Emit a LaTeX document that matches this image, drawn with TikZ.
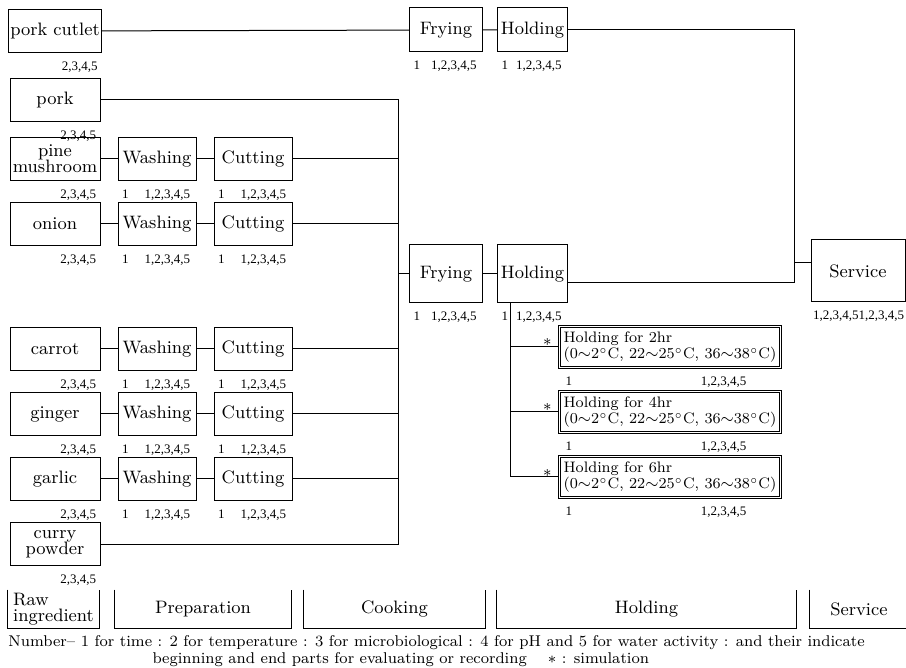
\documentclass[tikz,border=0pt]{standalone}
\usepackage{fontspec}
\newfontfamily\numfont{Liberation Serif}
\usetikzlibrary{positioning,calc}

\begin{document}
\begin{tikzpicture}[x=0.5pt,y=-0.5pt,line width=0.5pt,
   rawbox/.style={draw,minimum width=45pt,minimum height=21.5pt,inner sep=1pt,font=\small,align=center},
   procbox/.style={draw,minimum width=39pt,minimum height=21.5pt,inner sep=1pt,font=\small},
   simbox/.style={draw,double,double distance=0.8pt,minimum width=107pt,minimum height=20.5pt,
                  inner xsep=2pt,inner ysep=0pt,font=\fontsize{7.6pt}{8.4pt}\selectfont,align=left},
   num/.style={inner sep=1pt,font=\numfont\fontsize{6.5pt}{7.5pt}\selectfont},
   stage/.style={minimum height=19pt,inner sep=1pt,font=\small}]
  \useasboundingbox (0,0) rectangle (906,668);

  % raw ingredients
  \node[rawbox] (cutlet) at (55,31)  {pork cutlet};
  \node[rawbox] (pork)   at (55,100) {pork};
  \node[rawbox] (pine)   at (55,159) {pine\\[-3pt]mushroom};
  \node[rawbox] (onion)  at (55,224) {onion};
  \node[rawbox] (carrot) at (55,349) {carrot};
  \node[rawbox] (ginger) at (55,414) {ginger};
  \node[rawbox] (garlic) at (55,479) {garlic};
  \node[rawbox] (curry)  at (55,544) {curry\\[-3pt]powder};
  \foreach \r in {cutlet,pork,pine,onion,carrot,ginger,garlic,curry}{
    \node[num,anchor=north east] at ([xshift=-1pt,yshift=-3pt]\r.south east) {2,3,4,5};
  }

  % collecting line to the cooking step
  \coordinate (bus) at (398,100);
  \draw (pork) -- (bus) -- (bus |- curry) -- (curry);

  % preparation rows
  \foreach \r in {pine,onion,carrot,ginger,garlic}{
    \node[procbox,right=8.5pt of \r] (wash\r) {Washing};
    \node[procbox,right=8.5pt of wash\r] (cut\r) {Cutting};
    \draw (\r) -- (wash\r) -- (cut\r) -- (cut\r -| bus);
    \foreach \b in {wash\r,cut\r}{
      \node[num,anchor=north west] at ([xshift=1pt,yshift=-3pt]\b.south west) {1};
      \node[num,anchor=north east] at ([xshift=-2pt,yshift=-3pt]\b.south east) {1,2,3,4,5};
    }
  }

  % cooking
  \node[procbox,minimum width=36.5pt,minimum height=22pt] (fryT) at (446,30) {Frying};
  \node[procbox,minimum width=35pt,minimum height=22pt,right=7pt of fryT] (holdT) {Holding};
  \node[procbox,minimum width=36.5pt,minimum height=29pt] (fryM) at (446,274) {Frying};
  \node[procbox,minimum width=35pt,minimum height=29pt,right=7pt of fryM] (holdM) {Holding};
  \draw (cutlet) -- (fryT) -- (holdT);
  \draw (fryM -| bus) -- (fryM) -- (holdM);
  \foreach \b in {fryT,holdT,fryM,holdM}{
    \node[num,anchor=north west] at ([xshift=1pt,yshift=-3pt]\b.south west) {1};
    \node[num,anchor=north east] at ([xshift=-2pt,yshift=-3pt]\b.south east) {1,2,3,4,5};
  }

  % service
  \node[procbox,minimum width=47pt,minimum height=31pt] (svc) at (858,271) {Service};
  \coordinate (svcBus) at (794,31);
  \draw (holdT) -- (holdT -| svcBus) -- ([yshift=-4.5pt]holdM.east -| svcBus) -- ([yshift=-4.5pt]holdM.east);
  \draw ([yshift=4pt]svc.west -| svcBus) -- ([yshift=4pt]svc.west);
  \node[num,anchor=north west] at ([yshift=-3pt]svc.south west) {1,2,3,4,51,2,3,4,5};

  % simulated holding
  \coordinate (simBus) at ([xshift=6.5pt]holdM.south west);
  \foreach \h/\y in {2/347,4/412,6/477}{
    \node[simbox] (sim\h) at (670,\y) {Holding for \h hr\\(0$\sim$2$^{\circ}$C, 22$\sim$25$^{\circ}$C, 36$\sim$38$^{\circ}$C)};
    \draw (sim\h -| simBus) -- (sim\h);
    \node[inner sep=0.5pt,font=\footnotesize,anchor=east] at ([xshift=-3pt,yshift=1pt]sim\h.west) {*};
    \node[num,anchor=north west] at ([xshift=2pt,yshift=-3pt]sim\h.south west) {1};
    \node[num,anchor=north east] at ([xshift=-16pt,yshift=-3pt]sim\h.south east) {1,2,3,4,5};
  }
  \draw (simBus) -- (simBus |- sim6);

  % stage bar
  \node[stage,minimum width=45.5pt,align=left] (stRaw) at (53.5,609) {Raw\\[-3pt]ingredient};
  \node[stage,minimum width=88pt,right=7.5pt of stRaw] (stPrep) {Preparation};
  \node[stage,minimum width=90.5pt,right=6pt of stPrep] (stCook) {Cooking};
  \node[stage,minimum width=149.5pt,right=5.5pt of stCook] (stHold) {Holding};
  \node[stage,minimum width=49pt,right=6.5pt of stHold] (stSvc) {Service};
  \foreach \s in {stRaw,stPrep,stCook,stHold,stSvc}{
    \draw (\s.north west) -- (\s.south west);
    \draw[line width=0.8pt] (\s.south west) -- (\s.south east) -- (\s.north east);
  }

  % note
  \node[anchor=west,font=\fontsize{7.8pt}{9pt}\selectfont,inner sep=0pt] (note1) at (8,643)
    {Number-- 1 for time : 2 for temperature : 3 for microbiological : 4 for pH and 5 for water activity : and their indicate};
  \node[anchor=west,font=\fontsize{7.8pt}{9pt}\selectfont,inner sep=0pt] (note2) at (152,660)
    {beginning and end parts for evaluating or recording \quad $\ast$ : simulation};
\end{tikzpicture}
\end{document}
